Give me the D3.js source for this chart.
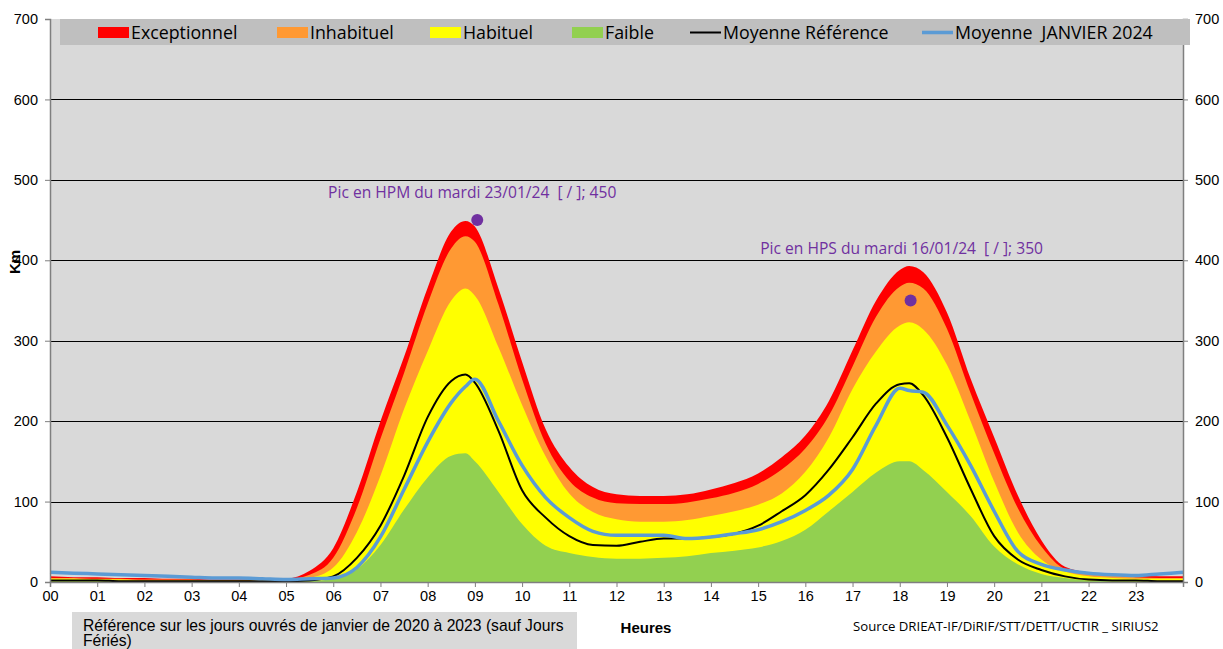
<!DOCTYPE html>
<html><head><meta charset="utf-8">
<script src="https://cdn.jsdelivr.net/npm/d3@7"></script>
<style>body{margin:0;background:#fff;} svg{display:block;} text{white-space:pre;}</style>
</head><body><svg id="c" width="1223" height="649"></svg>
<script>
// ---------- DATA ----------
const hours = [0,0.5,1,1.5,2,2.5,3,3.5,4,4.5,5,5.5,6,6.5,7,7.5,8,8.5,8.8,9,9.5,10,10.5,11,11.5,12,12.5,13,13.5,14,14.5,15,15.5,16,16.5,17,17.5,18,18.2,18.5,19,19.5,20,20.5,21,21.5,22,22.5,23,23.5,24];
const exceptionnel = [7,6,6,5,5,4,4,3,3,3,4,14,42,112,200,280,366,436,449,442,365,274,190,143,118,109,107,107,109,115,123,135,155,182,225,288,350,388,393,385,335,253,180,108,52,19,12,10,8,7,7];
const inhabituel   = [5,5,4,4,3,3,3,2,2,2,3,9,30,92,178,260,346,415,430,423,345,252,172,126,105,98,97,97,99,104,111,122,140,166,207,268,330,367,372,365,315,235,160,92,44,16,10,8,6,5,5];
const habituel     = [4,4,3,3,2,2,2,2,2,2,2,5,18,62,132,215,287,350,365,356,292,220,156,110,87,78,75,75,77,82,88,96,110,137,180,240,287,319,323,314,270,200,125,62,28,13,7,5,4,4,4];
const faible       = [1,1,1,1,1,1,1,1,1,1,1,1,4,16,46,90,130,157,160,150,112,72,45,36,31,29,29,30,32,36,39,43,51,65,88,112,136,150,150,139,112,82,44,22,10,5,2,1,1,1,1];
const moyenneRef   = [2,2,2,1,1,1,1,1,1,1,1,2,7,30,70,132,205,250,258,248,188,114,80,57,46,45,50,54,54,56,60,70,88,108,140,180,222,246,247,232,180,116,57,28,15,7,3,2,2,1,1];
const moyenne2024  = [12,11,10,9,8,7,6,5,5,4,3,4,5,18,56,115,174,223,243,252,200,145,105,80,63,58,58,58,54,56,60,65,75,89,108,140,195,241,238,236,195,145,88,38,22,15,11,9,8,10,12];

const yTicks = [0,100,200,300,400,500,600,700];
const xTickHours = d3.range(0,24);
const xTickLabels = ["00","01","02","03","04","05","06","07","08","09","10","11","12","13","14","15","16","17","18","19","20","21","22","23"];

const legendLabels = ["Exceptionnel","Inhabituel","Habituel","Faible","Moyenne Référence","Moyenne  JANVIER 2024"];
const peakHours = [9.05, 18.23];
const peakValues = [450, 350];
const peakLabels = ["Pic en HPM du mardi 23/01/24  [ / ]; 450", "Pic en HPS du mardi 16/01/24  [ / ]; 350"];

// ---------- LAYOUT ----------
const svg = d3.select("#c");
const X0 = 50, X1 = 1183, Y0 = 582, Y1 = 19;
const x = d3.scaleLinear().domain([0,24]).range([X0,X1]);
const y = d3.scaleLinear().domain([0,700]).range([Y0,Y1]);
const fills = ["#ff0000","#ff9933","#ffff00","#92d050"];
const purple = "#7030a0";
const axisFont = "'Liberation Sans', Arial, sans-serif";
const calFont = "'Open Sans', Lato, sans-serif";

// plot background
svg.append("rect").attr("x",X0).attr("y",Y1).attr("width",X1-X0).attr("height",Y0-Y1).attr("fill","#d9d9d9");

// gridlines
svg.append("g").selectAll("line").data(yTicks.filter(d=>d>0 && d<700)).join("line")
  .attr("x1",X0).attr("x2",X1).attr("y1",d=>Math.round(y(d))+0.5).attr("y2",d=>Math.round(y(d))+0.5)
  .attr("stroke","#000").attr("stroke-width",1);

// areas
const series = [exceptionnel, inhabituel, habituel, faible];
const area = d3.area().x((d,i)=>x(hours[i])).y0(y(0)).y1(d=>y(d)).curve(d3.curveMonotoneX);
series.forEach((s,k)=>{
  svg.append("path").datum(s).attr("d",area).attr("fill",fills[k]);
});

// lines
const line = d3.line().x((d,i)=>x(hours[i])).y(d=>y(d)).curve(d3.curveMonotoneX);
svg.append("path").datum(moyenneRef).attr("d",line).attr("fill","none").attr("stroke","#000").attr("stroke-width",2);
svg.append("path").datum(moyenne2024).attr("d",line).attr("fill","none").attr("stroke","#5b9bd5").attr("stroke-width",3.5).attr("stroke-linejoin","round");

// peak dots
svg.append("g").selectAll("circle").data(peakValues).join("circle")
  .attr("cx",(d,i)=>x(peakHours[i])).attr("cy",d=>y(d)).attr("r",6).attr("fill",purple);

// peak labels
const labelOffsets = [[-5,-22],[-9,-47]];
svg.append("g").selectAll("text").data(peakLabels).join("text")
  .attr("x",(d,i)=>x(peakHours[i])+labelOffsets[i][0]).attr("y",(d,i)=>y(peakValues[i])+labelOffsets[i][1])
  .attr("text-anchor","middle").attr("font-family",calFont).attr("font-size",15.6).attr("fill",purple).text(d=>d);

// axes
const axisColor = "#7f7f7f";
const gL = svg.append("g").attr("transform",`translate(${X0},0)`).call(d3.axisLeft(y).tickValues(yTicks).tickSize(5).tickFormat(d3.format("d")));
const gR = svg.append("g").attr("transform",`translate(${X1},0)`).call(d3.axisRight(y).tickValues(yTicks).tickSize(5).tickFormat(d3.format("d")));
const gB = svg.append("g").attr("transform",`translate(0,${Y0})`).call(d3.axisBottom(x).tickValues(xTickHours.concat([24])).tickSize(5).tickFormat((d,i)=>xTickLabels[i]||""));
[gL,gR,gB].forEach(g=>{
  g.select(".domain").attr("stroke",axisColor).attr("stroke-width",1.5);
  g.selectAll(".tick line").attr("stroke",axisColor);
  g.selectAll("text").attr("font-family",axisFont).attr("font-size",14.5).attr("fill","#000");
});
gL.selectAll("text").attr("x",-12);
gR.selectAll("text").attr("x",12);
gB.selectAll("text").attr("y",9);

// legend box
svg.append("rect").attr("x",60).attr("y",Y1).attr("width",1130).attr("height",26).attr("fill","#bfbfbf");
const legX = [98,277,430,572,690,922];
const lg = svg.append("g");
legendLabels.forEach((t,i)=>{
  if(i<4){
    lg.append("rect").attr("x",legX[i]).attr("y",27).attr("width",31).attr("height",11).attr("fill",fills[i]);
  } else {
    lg.append("line").attr("x1",legX[i]).attr("x2",legX[i]+31).attr("y1",32.5).attr("y2",32.5)
      .attr("stroke",i===4?"#000":"#5b9bd5").attr("stroke-width",i===4?2:3.5);
  }
  lg.append("text").attr("x",legX[i]+33).attr("y",38.5).attr("font-family",calFont).attr("font-size",17.8).attr("fill","#000").text(t);
});

// axis titles
svg.append("text").attr("transform","translate(20,262) rotate(-90)").attr("text-anchor","middle")
  .attr("font-family",axisFont).attr("font-weight","bold").attr("font-size",15).text("Km");
svg.append("text").attr("x",646).attr("y",633).attr("text-anchor","middle")
  .attr("font-family",axisFont).attr("font-weight","bold").attr("font-size",15).text("Heures");

// bottom-left note
svg.append("rect").attr("x",72).attr("y",612).attr("width",505).attr("height",37).attr("fill","#d9d9d9");
svg.append("text").attr("x",83).attr("y",631).attr("font-family",axisFont).attr("font-size",15.7).text("Référence sur les jours ouvrés de janvier de 2020 à 2023 (sauf Jours");
svg.append("text").attr("x",83).attr("y",646).attr("font-family",axisFont).attr("font-size",15.7).text("Fériés)");

// source
svg.append("text").attr("x",853).attr("y",631).attr("font-family",calFont).attr("font-size",13.2).text("Source DRIEAT-IF/DiRIF/STT/DETT/UCTIR _ SIRIUS2");
</script></body></html>
